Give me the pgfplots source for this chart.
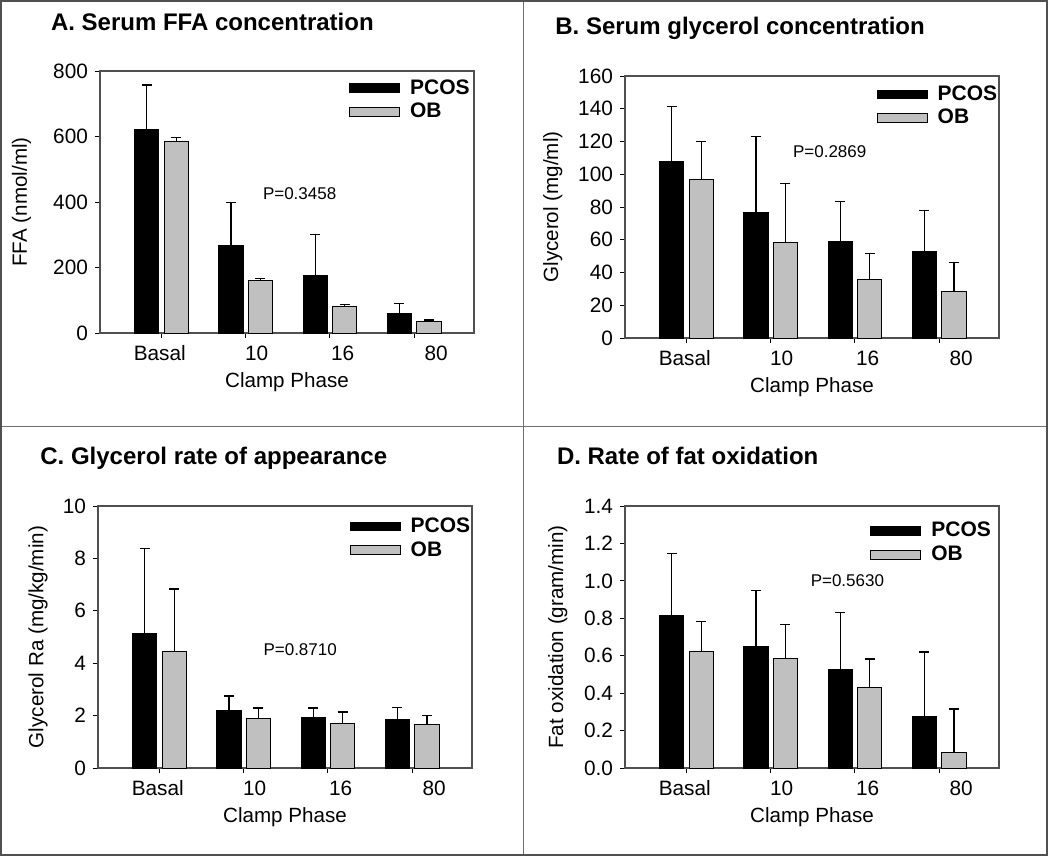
\documentclass[border=0pt]{standalone}
\usepackage{fontspec}
\setmainfont{Liberation Sans}
\usepackage{pgfplots}
\usepackage{pgfplotstable}
\pgfplotsset{compat=1.18}

\definecolor{obgray}{HTML}{C0C0C0}
\definecolor{axgray}{HTML}{505050}
\definecolor{framegray}{HTML}{505050}
\definecolor{divgray}{HTML}{707070}

% values; errors are (top of error bar - bar)
\pgfplotstableread{
x pcos pcose ob obe
0 621 136 586 12
1 266 132 159 7
2 177 123 80 7
3 61 30 36 4
}\dataA
\pgfplotstableread{
x pcos pcose ob obe
0 107.8 33.5 96.6 23.3
1 76.4 46.9 58.3 36.1
2 58.9 24.7 35.9 15.5
3 53.0 24.9 28.7 17.2
}\dataB
\pgfplotstableread{
x pcos pcose ob obe
0 5.12 3.27 4.43 2.40
1 2.18 0.57 1.90 0.39
2 1.92 0.37 1.69 0.45
3 1.87 0.45 1.66 0.33
}\dataC
\pgfplotstableread{
x pcos pcose ob obe
0 0.815 0.331 0.624 0.157
1 0.651 0.298 0.585 0.180
2 0.524 0.307 0.431 0.152
3 0.274 0.346 0.084 0.231
}\dataD

\tikzset{ptext/.style={font=\fontsize{8.5}{10}\selectfont}}

\pgfplotsset{
  panel/.style={
    scale only axis, width=187pt, height=131pt,
    anchor=south west,
    ybar, bar width=0.29,
    xmin=-0.73, xmax=3.71, ymin=0,
    xtick={0,1,2,3}, xticklabels={},
    extra x ticks={-0.02,1.13,2.15,3.26},
    extra x tick labels={Basal,10,16,80},
    extra x tick style={major tick length=2.5pt, tick style={draw=none}},
    xticklabel style={anchor=north, text height=7.6pt, text depth=0pt},
    tick pos=left, tick align=outside, major tick length=2.5pt,
    axis line style={axgray, line width=0.6pt},
    tick style={black, line width=0.5pt},
    ticklabel style={font=\fontsize{10.4}{12}\selectfont},
    /pgf/number format/assume math mode=true,
    label style={font=\fontsize{10.3}{12}\selectfont},
    xlabel={Clamp Phase},
    xlabel style={at={(axis description cs:0.5,-0.187)}, anchor=center},
    legend style={draw=none, fill=none, inner sep=0pt, anchor=north west,
      font=\fontsize{10.5}{12}\selectfont\bfseries, row sep=-1pt,
      /tikz/every odd column/.append style={column sep=3pt}},
    legend cell align=left,
    legend image code/.code={\draw[#1] (0pt,-2.2pt) rectangle (25pt,2.2pt);},
    error bars/y dir=plus, error bars/y explicit,
    error bars/error bar style={black, line width=0.6pt},
    error bars/error mark options={black, line width=0.6pt, mark size=2.5pt, rotate=90},
  },
  pcos/.style={fill=black, draw=black, line width=0.5pt, bar shift=-0.175},
  ob/.style={fill=obgray, draw=black, line width=0.5pt, bar shift=0.175},
}

\begin{document}
\begin{tikzpicture}
\useasboundingbox (0pt,0pt) rectangle (525pt,429.5pt);

% A
\begin{axis}[panel, at={(50pt,263pt)},
  ymax=800, ytick={0,200,400,600,800},
  ylabel={FFA (nmol/ml)},
  ylabel style={at={(axis description cs:-0.21,0.5)}, anchor=center},
  legend style={at={(axis description cs:0.665,0.985)}}]
\addplot[pcos] table[x=x, y=pcos, y error=pcose] {\dataA};
\addplot[ob] table[x=x, y=ob, y error=obe] {\dataA};
\legend{PCOS, OB}
\node[ptext] at (axis cs:1.64,427) {P=0.3458};
\end{axis}

% B
\begin{axis}[panel, at={(312.5pt,260.5pt)},
  ymax=160, ytick={0,20,...,160},
  ylabel={Glycerol (mg/ml)},
  ylabel style={at={(axis description cs:-0.193,0.5)}, anchor=center},
  legend style={at={(axis description cs:0.672,0.98)}}]
\addplot[pcos] table[x=x, y=pcos, y error=pcose] {\dataB};
\addplot[ob] table[x=x, y=ob, y error=obe] {\dataB};
\legend{PCOS, OB}
\node[ptext] at (axis cs:1.70,114) {P=0.2869};
\end{axis}

% C
\begin{axis}[panel, at={(49pt,45.5pt)},
  ymax=10, ytick={0,2,4,6,8,10},
  ylabel={Glycerol Ra (mg/kg/min)},
  ylabel style={at={(axis description cs:-0.16,0.5)}, anchor=center},
  legend style={at={(axis description cs:0.672,0.972)}}]
\addplot[pcos] table[x=x, y=pcos, y error=pcose] {\dataC};
\addplot[ob] table[x=x, y=ob, y error=obe] {\dataC};
\legend{PCOS, OB}
\node[ptext] at (axis cs:1.67,4.52) {P=0.8710};
\end{axis}

% D
\begin{axis}[panel, at={(312.5pt,45.5pt)},
  ymax=1.4, ytick={0,0.2,...,1.4},
  yticklabel style={/pgf/number format/.cd, fixed, fixed zerofill, precision=1},
  ylabel={Fat oxidation (gram/min)},
  ylabel style={at={(axis description cs:-0.18,0.5)}, anchor=center},
  legend style={at={(axis description cs:0.655,0.955)}}]
\addplot[pcos] table[x=x, y=pcos, y error=pcose] {\dataD};
\addplot[ob] table[x=x, y=ob, y error=obe] {\dataD};
\legend{PCOS, OB}
\node[ptext] at (axis cs:1.91,1.003) {P=0.5630};
\end{axis}

% panel titles
\begin{scope}[every node/.style={anchor=base west, inner sep=0pt, font=\fontsize{12}{14}\selectfont\bfseries}]
\node at (25.3pt,414.2pt) {A. Serum FFA concentration};
\node at (277.5pt,412pt) {B. Serum glycerol concentration};
\node at (20pt,197.3pt) {C. Glycerol rate of appearance};
\node at (278.3pt,197.3pt) {D. Rate of fat oxidation};
\end{scope}

% frame and dividers
\draw[divgray, line width=0.5pt] (261.5pt,2pt) -- (261.5pt,429pt);
\draw[divgray, line width=0.5pt] (0.5pt,216.5pt) -- (523.5pt,216.5pt);
\draw[framegray, line width=1pt] (0.5pt,2pt) rectangle (523.5pt,429pt);
\end{tikzpicture}
\end{document}
